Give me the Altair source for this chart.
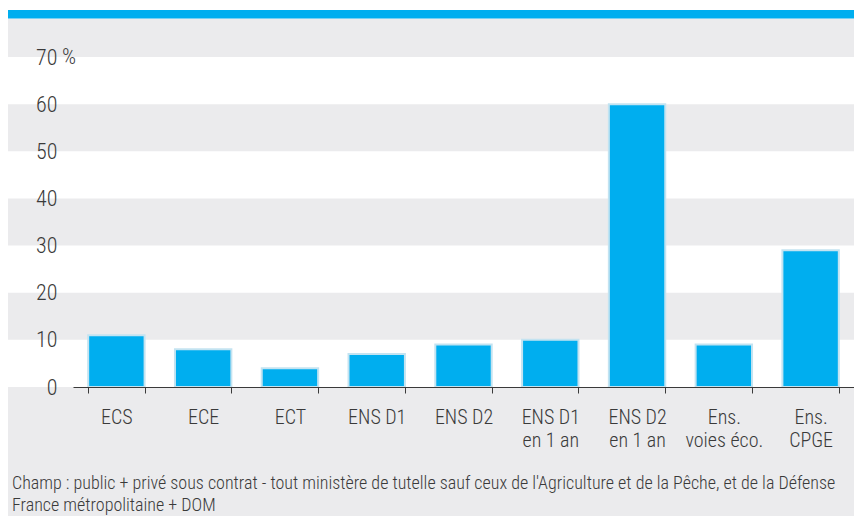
import altair as alt
import pandas as pd

categories = ["ECS", "ECE", "ECT", "ENS D1", "ENS D2", "ENS D1|en 1 an",
              "ENS D2|en 1 an", "Ens.|voies éco.", "Ens.|CPGE"]
values = [11, 8, 4, 7, 9, 10, 60, 9, 29]
y_ticks = [0, 10, 20, 30, 40, 50, 60, 70]
band_starts = [0, 20, 40, 60]
footer_lines = [
    "Champ : public + privé sous contrat - tout ministère de tutelle sauf ceux de l'Agriculture et de la Pêche, et de la Défense",
    "France métropolitaine + DOM",
]

FONT = "Liberation Sans Narrow, Roboto Condensed, DejaVu Sans Condensed, Arial Narrow, sans-serif"
TXT = "#3a3a3a"
GRAY = "#ebebed"
BLUE = "#00aeef"
FW = 300

W, H = 781, 330
PL, PT, PR, PB = 65, 49, 0, 129

df = pd.DataFrame({"cat": categories, "val": values})
bands = pd.DataFrame({"y0": band_starts, "y1": [b + 10 for b in band_starts]})
one = pd.DataFrame({"a": [0]})

yscale = alt.Scale(domain=[0, 70], nice=False)

bg = alt.Chart(one).mark_rect(color=GRAY).encode(
    x=alt.value(-PL), x2=alt.value(W + PR), y=alt.value(-38.5), y2=alt.value(H + PB)
)
stripe = alt.Chart(one).mark_rect(color=BLUE).encode(
    x=alt.value(-PL), x2=alt.value(W + PR), y=alt.value(-47), y2=alt.value(-38.5)
)
white = alt.Chart(bands).mark_rect(color="white").encode(
    x=alt.value(-PL), x2=alt.value(W + PR),
    y=alt.Y("y0:Q", scale=yscale, title=None,
            axis=alt.Axis(values=y_ticks, grid=False, ticks=False, domain=False,
                          labelFontSize=22, labelFont=FONT, labelColor=TXT,
                          labelFontWeight=FW, labelPadding=16, zindex=1)),
    y2="y1:Q",
)
bars = alt.Chart(df).mark_bar(color=BLUE, stroke="#c3e3f1", strokeWidth=2).encode(
    x=alt.X("cat:N", sort=categories, title=None,
            scale=alt.Scale(paddingInner=0.35, paddingOuter=0.175),
            axis=alt.Axis(labelAngle=0, tickBand="extent", tickSize=6, labelPadding=14,
                          labelFontSize=20, labelFont=FONT, labelColor=TXT,
                          labelFontWeight=FW,
                          labelLineHeight=23, labelExpr="split(datum.label, '|')",
                          domainColor=TXT, tickColor=TXT, labelBaseline="top", zindex=1)),
    y=alt.Y("val:Q", scale=yscale),
)
pct = alt.Chart(pd.DataFrame({"v": [70]})).mark_text(
    text="%", align="left", baseline="middle", fontSize=22, font=FONT, color=TXT,
    fontWeight=FW
).encode(x=alt.value(-11), y=alt.Y("v:Q", scale=yscale))
footer = alt.Chart(one).mark_text(
    align="left", baseline="alphabetic", fontSize=18, font=FONT, color=TXT, lineHeight=22,
    fontWeight=FW
).encode(x=alt.value(-61), y=alt.value(432), text=alt.value(footer_lines))

chart = alt.layer(bg, stripe, white, bars, pct, footer).properties(
    width=W, height=H,
    autosize=alt.AutoSizeParams(type="none"),
    padding={"left": PL, "top": PT, "right": PR, "bottom": PB},
    background="white",
).configure_view(stroke=None)

chart.save("out.html", embed_options={"renderer": "svg", "actions": False})
